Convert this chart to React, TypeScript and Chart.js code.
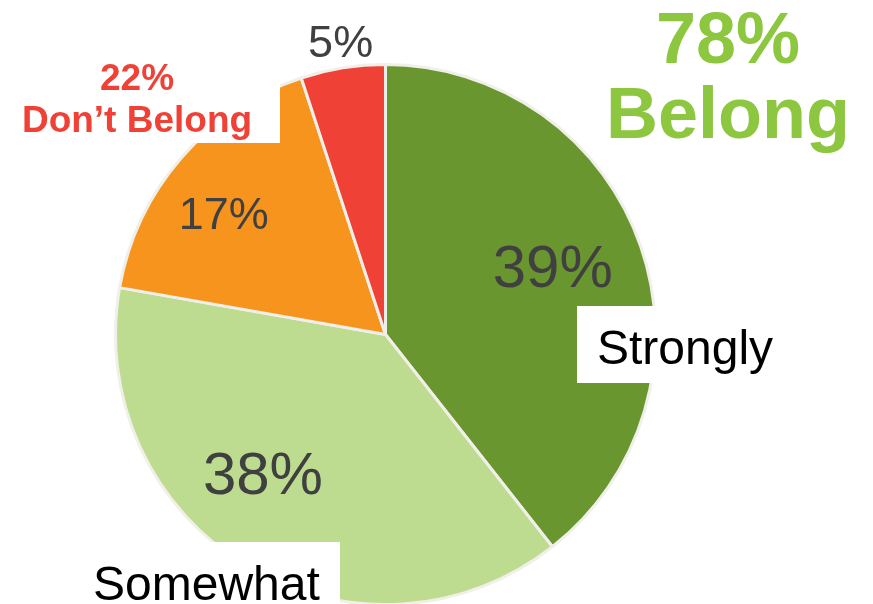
import { useEffect, useRef } from "react";
import { Chart, registerables } from "chart.js";

Chart.register(...registerables);

// ---- data ----
const categories = ["Strongly", "Somewhat", "Don’t Belong (a)", "Don’t Belong (b)"];
const values = [39, 38, 17, 5];
const sliceColors = ["#6a962f", "#bddc8f", "#f7941d", "#ef4136"];
const belongLines = ["78%", "Belong"];
const dontBelongLines = ["22%", "Don’t Belong"];
const categoryTags = ["Strongly", "Somewhat"];

// ---- label styling (polar placement relative to each slice) ----
const pctAngleOffsetDeg = [-3.3, 10.6, -3.9, 0.4];
const pctRadiusFrac = [0.67, 0.685, 0.75, 1.1];
const pctFontSize = [60, 60, 45, 45];

const FONT = "'Liberation Sans', Arial, sans-serif";

const overlayPlugin = {
  id: "overlay",
  afterDatasetsDraw(chart: any) {
    const ctx = chart.ctx as CanvasRenderingContext2D;
    const meta = chart.getDatasetMeta(0);
    ctx.save();

    // white boxes that cover parts of the pie
    ctx.fillStyle = "#ffffff";
    ctx.fillRect(0, 40, 280, 103); // Don't Belong box
    ctx.fillRect(577, 306, 230, 77); // Strongly box
    ctx.fillRect(70, 542, 270, 70); // Somewhat box

    // percentage labels
    ctx.fillStyle = "#404040";
    ctx.textAlign = "center";
    ctx.textBaseline = "alphabetic";
    meta.data.forEach((arc: any, i: number) => {
      const mid = (arc.startAngle + arc.endAngle) / 2 + (pctAngleOffsetDeg[i] * Math.PI) / 180;
      const r = arc.outerRadius * pctRadiusFrac[i];
      const x = arc.x + Math.cos(mid) * r;
      const y = arc.y + Math.sin(mid) * r;
      const fs = pctFontSize[i];
      ctx.font = `${fs}px ${FONT}`;
      ctx.fillText(`${values[i]}%`, x, y + fs * 0.358);
    });

    // 78% Belong
    ctx.fillStyle = "#8dc63f";
    ctx.font = `bold 72px ${FONT}`;
    ctx.fillText(belongLines[0], 728, 63);
    ctx.fillText(belongLines[1], 728, 138);

    // 22% Don't Belong
    ctx.fillStyle = "#ef4136";
    ctx.font = `bold 37px ${FONT}`;
    ctx.fillText(dontBelongLines[0], 137, 90);
    ctx.fillText(dontBelongLines[1], 137, 132);

    // category tags
    ctx.fillStyle = "#000000";
    ctx.textAlign = "left";
    ctx.font = `48px ${FONT}`;
    ctx.fillText(categoryTags[0], 597, 364);
    ctx.fillText(categoryTags[1], 93, 600);

    ctx.restore();
  },
};

export default function App() {
  const ref = useRef<HTMLCanvasElement | null>(null);
  useEffect(() => {
    if (!ref.current) return;
    const chart = new Chart(ref.current, {
      type: "pie",
      data: {
        labels: categories,
        datasets: [
          {
            data: values,
            backgroundColor: sliceColors,
            borderColor: "#f1efe9",
            borderWidth: 3,
          },
        ],
      },
      options: {
        responsive: false,
        animation: false,
        layout: { padding: { left: 114, top: 63, right: 216, bottom: 0 } },
        plugins: {
          legend: { display: false },
          tooltip: { enabled: false },
          title: { display: false },
        },
      },
      plugins: [overlayPlugin],
    });
    return () => chart.destroy();
  }, []);
  return (
    <div style={{ position: "fixed", left: 0, top: 0, width: 873, height: 604, overflow: "hidden", background: "#fff" }}>
      <canvas ref={ref} width={873} height={606} style={{ display: "block" }} />
    </div>
  );
}
